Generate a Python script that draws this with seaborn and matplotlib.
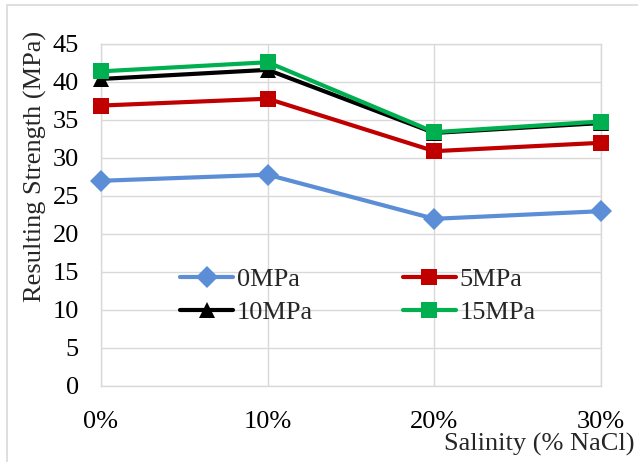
import matplotlib
matplotlib.use("Agg")
import matplotlib.pyplot as plt
from matplotlib.patches import Rectangle
from matplotlib.ticker import FuncFormatter
import seaborn as sns
import pandas as pd

# Salinity levels (% NaCl) and resulting strength (MPa) for each confining pressure
salinity = [0, 10, 20, 30]
strength_0mpa = [27.0, 27.8, 22.0, 23.0]
strength_5mpa = [36.9, 37.8, 30.9, 32.0]
strength_10mpa = [40.4, 41.6, 33.3, 34.6]
strength_15mpa = [41.4, 42.6, 33.4, 34.8]

series_names = ["0MPa", "5MPa", "10MPa", "15MPa"]
series_values = [strength_0mpa, strength_5mpa, strength_10mpa, strength_15mpa]
colors = ["#5B8ED6", "#C00000", "#000000", "#00B050"]
markers = ["D", "s", "^", "s"]
marker_sizes = [11, 12, 12, 12]

FS = 19

sns.set_style("white")
plt.rcParams["font.family"] = ["Liberation Serif", "DejaVu Serif"]

fig = plt.figure(figsize=(6.38, 4.62), dpi=100)
ax = fig.add_axes([101 / 638, 1 - 386 / 462, 500 / 638, 342 / 462])

# light outer frame around the chart
fig.patches.append(Rectangle((7 / 638, -0.2), 1.2, 1 - 5 / 462 + 0.2,
                             transform=fig.transFigure, fill=False,
                             edgecolor="#D9D9D9", linewidth=1.2, zorder=0))

for name, vals, c, m, ms in zip(series_names, series_values, colors, markers, marker_sizes):
    df = pd.DataFrame({"salinity": salinity, "strength": vals})
    sns.lineplot(data=df, x="salinity", y="strength", ax=ax, color=c,
                 marker=m, markersize=ms, linewidth=3, markeredgewidth=0,
                 label=name, clip_on=False, zorder=3)

ax.set_xlim(0, 30)
ax.set_ylim(0, 45)
ax.set_xticks(salinity)
ax.set_yticks(range(0, 50, 5))
ax.xaxis.set_major_formatter(FuncFormatter(lambda v, p: f"{int(v)}%"))
ax.grid(True, color="#D9D9D9", linewidth=1.0)
ax.set_axisbelow(True)
for sp in ax.spines.values():
    sp.set_color("#D9D9D9")
    sp.set_linewidth(1.0)
ax.tick_params(axis="both", length=0, labelsize=FS, colors="#000000")
ax.tick_params(axis="x", pad=18)
ax.tick_params(axis="y", pad=16)

ax.set_xlabel("")
ax.set_ylabel("")
fig.text(35 / 638, 1 - 166 / 462, "Resulting Strength (MPa)", rotation=90,
         ha="center", va="center", fontsize=FS)
fig.text(635 / 638, 1 - 444 / 462, "Salinity (% NaCl)", ha="right",
         va="center", fontsize=FS)

handles, labels = ax.get_legend_handles_labels()
order = [0, 2, 1, 3]
ax.legend([handles[i] for i in order], [labels[i] for i in order],
          ncol=2, loc="center", bbox_to_anchor=(0.514, 0.263),
          frameon=False, fontsize=FS, handlelength=2.0,
          columnspacing=3.4, labelspacing=0.35, handletextpad=0.15)

fig.savefig("out.png", dpi=100)
